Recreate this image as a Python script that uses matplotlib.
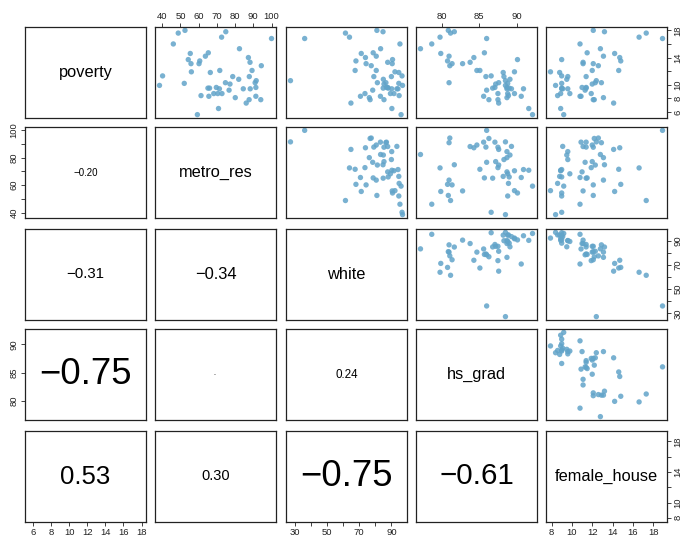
import matplotlib.pyplot as plt
import numpy as np

plt.rcParams['font.family'] = ['Liberation Sans', 'DejaVu Sans']

names = ["poverty", "metro_res", "white", "hs_grad", "female_house"]

# one row per state (50 states + DC)
poverty = [14.6, 8.3, 13.3, 18.0, 12.8, 9.4, 7.8, 8.1, 16.8, 12.1,
           12.1, 10.6, 11.8, 11.2, 9.6, 10.2, 8.4, 13.1, 17.0, 11.3,
           7.3, 9.6, 10.3, 6.5, 17.6, 9.5, 13.7, 8.7, 8.3, 5.6,
           7.8, 17.8, 14.0, 13.1, 11.9, 10.1, 14.7, 11.2, 9.2, 10.3,
           13.5, 9.5, 14.2, 15.3, 9.4, 9.9, 8.7, 10.8, 16.0, 8.7, 9.4]
metro_res = [55.4, 65.6, 88.2, 52.5, 94.4, 84.5, 87.7, 80.1, 100.0, 89.3,
             71.6, 91.6, 66.4, 87.8, 69.7, 52.1, 61.3, 55.8, 72.6, 40.2,
             86.1, 91.4, 74.7, 70.9, 48.8, 65.1, 54.3, 70.5, 91.4, 59.3,
             94.1, 74.9, 87.3, 60.2, 56.0, 77.2, 65.3, 78.7, 76.7, 91.0,
             60.6, 66.0, 63.7, 82.4, 88.3, 38.5, 72.8, 82.0, 46.1, 68.3, 71.4]
white = [71.3, 70.8, 87.7, 81.0, 77.5, 90.2, 85.4, 76.3, 36.2, 80.6,
         67.5, 27.4, 94.6, 79.1, 87.7, 94.6, 94.8, 90.5, 64.0, 96.6,
         64.9, 86.9, 81.3, 90.3, 61.5, 84.9, 90.7, 91.6, 83.2, 96.0,
         76.8, 84.8, 73.9, 74.3, 92.2, 85.4, 78.7, 90.0, 78.4, 86.6,
         68.0, 88.0, 80.6, 83.3, 93.4, 96.9, 73.6, 85.0, 95.3, 89.4, 94.1]
hs_grad = [79.9, 90.6, 83.8, 80.9, 81.1, 88.7, 87.5, 88.7, 86.0, 84.7,
           85.1, 88.5, 88.2, 85.9, 88.7, 88.8, 88.9, 82.8, 79.8, 86.6,
           87.6, 87.1, 87.6, 91.6, 81.2, 86.8, 90.1, 89.7, 85.6, 92.1,
           86.3, 81.7, 84.3, 81.4, 89.7, 87.2, 85.7, 88.3, 86.0, 81.0,
           80.8, 89.0, 81.0, 77.2, 89.3, 88.5, 87.5, 89.1, 78.7, 88.8, 90.9]
female_house = [14.2, 10.8, 11.1, 12.1, 12.6, 9.6, 12.1, 13.1, 18.9, 12.0,
                14.6, 12.4, 8.8, 11.4, 11.0, 9.0, 8.6, 11.1, 16.6, 9.0,
                14.1, 11.4, 12.3, 8.9, 17.3, 11.4, 9.0, 8.9, 10.9, 9.2,
                12.2, 13.2, 14.7, 12.1, 7.9, 12.0, 11.5, 9.6, 11.3, 12.9,
                14.8, 9.0, 13.1, 12.8, 9.1, 8.4, 11.9, 9.5, 10.8, 9.8, 9.0]

columns = [poverty, metro_res, white, hs_grad, female_house]

# correlations shown in the lower panels (row, col, r)
cor_rows = [1, 2, 2, 3, 3, 3, 4, 4, 4, 4]
cor_cols = [0, 0, 1, 0, 1, 2, 0, 1, 2, 3]
cor_vals = [-0.20, -0.31, -0.34, -0.75, 0.03, 0.24, 0.53, 0.30, -0.75, -0.61]

# tick positions, and which of them get a label on a horizontal / vertical axis
ticks = [[6, 8, 10, 12, 14, 16, 18],
         [40, 50, 60, 70, 80, 90, 100],
         [30, 40, 50, 60, 70, 80, 90],
         [80, 85, 90],
         [8, 10, 12, 14, 16, 18]]
xlabeled = [[6, 8, 10, 12, 14, 16, 18],
            [40, 50, 60, 70, 80, 90, 100],
            [30, 50, 70, 90],
            [80, 85, 90],
            [8, 10, 12, 14, 16, 18]]
ylabeled = [[6, 8, 10, 14, 18],
            [40, 60, 80, 100],
            [30, 50, 70, 90],
            [80, 85, 90],
            [8, 10, 14, 18]]

W, H = 688, 541
lefts = [25, 155, 286, 416, 546]
tops = [27, 127, 229, 329, 431]
pw, ph = 121, 91
dot = "#62a4c9"
n = len(names)


def lims(v):
    lo, hi = min(v), max(v)
    pad = 0.04 * (hi - lo)
    return lo - pad, hi + pad


def tick_text(vals, keep):
    return [str(t) if t in keep else "" for t in vals]


fig = plt.figure(figsize=(W / 100, H / 100), dpi=100)

for i in range(n):
    for j in range(n):
        ax = fig.add_axes([lefts[j] / W, 1 - (tops[i] + ph) / H, pw / W, ph / H])
        ax.set_xlim(lims(columns[j]))
        ax.set_ylim(lims(columns[i]))
        for s in ax.spines.values():
            s.set_linewidth(0.9)
            s.set_color("#222222")
        ax.tick_params(direction="out", length=3, width=0.6, color="#222222",
                       labelsize=6.8, labelcolor="#222222", pad=1.5)
        ax.set_xticks([])
        ax.set_yticks([])

        if i == j:
            ax.text(0.5, 0.5, names[i], transform=ax.transAxes,
                    ha="center", va="center", fontsize=11.8)
        elif j > i:
            ax.scatter(columns[j], columns[i], s=15, color=dot, alpha=0.85,
                       edgecolors="none")

        # R-style alternating axes around the matrix
        if i == 0 and j % 2 == 1:
            ax.xaxis.tick_top()
            ax.set_xticks(ticks[j])
            ax.set_xticklabels(tick_text(ticks[j], xlabeled[j]))
        if i == n - 1 and j % 2 == 0:
            ax.set_xticks(ticks[j])
            ax.set_xticklabels(tick_text(ticks[j], xlabeled[j]))
        if j == 0 and i % 2 == 1:
            ax.set_yticks(ticks[i])
            ax.set_yticklabels(tick_text(ticks[i], ylabeled[i]),
                               rotation=90, va="center")
        if j == n - 1 and i % 2 == 0:
            ax.yaxis.tick_right()
            ax.set_yticks(ticks[i])
            ax.set_yticklabels(tick_text(ticks[i], ylabeled[i]),
                               rotation=90, va="center")

for r, c, v in zip(cor_rows, cor_cols, cor_vals):
    ax = fig.axes[r * n + c]
    txt = f"{v:.2f}".replace("-", "\u2212")
    ax.text(0.5, 0.5, txt, transform=ax.transAxes, ha="center", va="center",
            fontsize=35 * abs(v))

fig.savefig("out.png", dpi=100)
